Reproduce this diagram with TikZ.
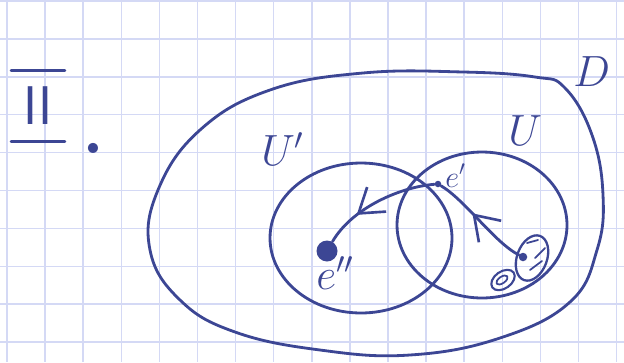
\documentclass[tikz,border=0pt]{standalone}
\usepackage{amsmath}
\usepackage{xcolor}
\usetikzlibrary{positioning,arrows.meta,shapes.geometric,decorations.markings}
\definecolor{ink}{RGB}{60,70,148}
\definecolor{gridblue}{RGB}{212,217,245}

\begin{document}
\begin{tikzpicture}[x=0.02cm, y=-0.02cm,
    grd/.style={draw=gridblue, line width=0.9pt},
    pen/.style={draw=ink, line width=1.6pt, line cap=round, line join=round},
    lbl/.style={text=ink, inner sep=0pt, anchor=base west},
    pt/.style={circle, fill=ink, inner sep=0pt},
    set/.style={pen, ellipse, inner sep=0pt},
    midarr/.style={pen, postaction={decorate}, decoration={markings,
        mark=at position #1 with {\arrow[ink, line width=1.5pt]{Straight Barb[length=0.46cm, width=0.62cm]}}}},
]
% paper and grid
\useasboundingbox (0,0) rectangle (624,362);
\fill[white] (0,0) rectangle (624,362);
\foreach \i in {0,...,16} \draw[grd] ({7+38.1*\i},0) -- ({7+38.1*\i},362);
\foreach \j in {0,...,9} \draw[grd] (0,{1+37.9*\j}) -- (624,{1+37.9*\j});
% heading
\node[text=ink, font=\sffamily\fontsize{31}{33}\selectfont, minimum width=1.06cm,
      minimum height=1.42cm, inner sep=0pt] (num) at (38,106) {II};
\draw[pen] (num.north west) -- (num.north east) (num.south west) -- (num.south east);
\node[text=ink, inner sep=0pt, font=\bfseries\fontsize{40}{42}\selectfont] (numdot) at (93,148) {.};
% outer set D
\draw[pen] plot[smooth cycle, tension=0.7] coordinates {(363,73) (463,72) (535,77) (565,88)
    (592,135) (603,195) (597,250) (570,302) (500,338) (410,355) (320,350) (235,332)
    (180,300) (150,250) (158,190) (200,130) (270,90)};
\node[lbl, font=\fontsize{30}{32}\selectfont] (lblD) at (573,86) {$D$};
% neighbourhoods U' and U
\node[set, minimum width=3.64cm, minimum height=3.0cm] (Up) at (361,238) {};
\node[set, minimum width=3.4cm, minimum height=2.92cm] (U) at (482,225) {};
\node[lbl, font=\fontsize{27}{29}\selectfont] (lblUp) at (261,165) {$U'$};
\node[lbl, font=\fontsize{28}{30}\selectfont] (lblU) at (508,145) {$U$};
% points
\node[pt, minimum size=0.13cm] (e1) at (438,184) {};
\node[lbl, font=\fontsize{18}{20}\selectfont] (lble1) at (445,187) {$e'$};
\node[pt, minimum size=0.42cm] (e2) at (327,251) {};
\node[lbl, font=\fontsize{24}{26}\selectfont] (lble2) at (316,289) {$e''$};
% small cluster
\node[set, line width=1.3pt, minimum width=0.6cm, minimum height=0.94cm, rotate=-20] (blob) at (532,258) {};
\node[pt, minimum size=0.17cm] (e3) at (523,257) {};
\node[set, line width=1.2pt, minimum width=0.52cm, minimum height=0.34cm, rotate=35] (small) at (503,280) {};
\node[set, line width=1pt, minimum width=0.26cm, minimum height=0.13cm, rotate=35] (smallin) at (502,280) {};
\draw[pen, line width=1pt] (527,243) -- (538,240) (535,258) -- (545,248) (530,270) -- (542,261);
% arrows
\draw[midarr=0.7] (e1) .. controls (400,187) and (352,208) .. (e2);
\draw[midarr=0.6] (e3) .. controls (495,243) and (465,200) .. (e1);
\end{tikzpicture}
\end{document}
